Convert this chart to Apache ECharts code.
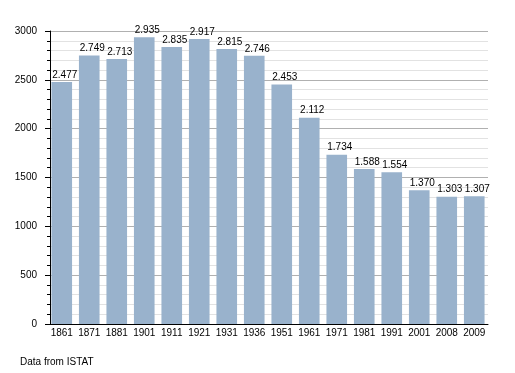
<!DOCTYPE html>
<html><head><meta charset="utf-8">
<script src="https://cdn.jsdelivr.net/npm/echarts@6/dist/echarts.min.js"></script>
<style>html,body{margin:0;padding:0;background:#fff}#c{width:515px;height:373px}</style>
</head><body><div id="c"></div>
<script>
const categories = ['1861','1871','1881','1901','1911','1921','1931','1936','1951','1961','1971','1981','1991','2001','2008','2009'];
const population = [2477,2749,2713,2935,2835,2917,2815,2746,2453,2112,1734,1588,1554,1370,1303,1307];
const yTicks = [0,500,1000,1500,2000,2500,3000];

const chart = echarts.init(document.getElementById('c'), null, {renderer:'canvas'});
const font = 'Liberation Sans, Arial, sans-serif';
chart.setOption({
  animation:false,
  textStyle:{fontFamily:font},
  graphic:[{type:'text', left:20, top:357, style:{text:'Data from ISTAT', font:'10px '+font, fill:'#000'}}],
  grid:{left:48, right:27, top:31, bottom:49},
  xAxis:{type:'category', data:categories,
    axisLine:{lineStyle:{color:'#000', width:1}},
    axisTick:{show:false},
    axisLabel:{color:'#000', fontSize:10, fontFamily:font, margin:4, interval:0}},
  yAxis:{type:'value', min:yTicks[0], max:yTicks[yTicks.length-1], interval:500, offset:-2,
    axisLine:{show:true, lineStyle:{color:'#000'}},
    axisTick:{show:true, length:5, lineStyle:{color:'#000'}},
    minorTick:{show:true, splitNumber:5, length:3, lineStyle:{color:'#000'}},
    splitLine:{lineStyle:{color:'#b0b0b0'}},
    minorSplitLine:{show:true, lineStyle:{color:'#e2e2e2'}},
    axisLabel:{color:'#000', fontSize:10, fontFamily:font, margin:13, formatter:v=>String(v)}},
  series:[{type:'bar', data:population, barWidth:'75%',
    itemStyle:{color:'#99b2cc'},
    label:{show:true, position:'top', distance:2, offset:[3,0], color:'#000', fontSize:10, fontFamily:font,
      formatter:p=>{const s=String(p.value);return s.length>3?s.slice(0,s.length-3)+'.'+s.slice(-3):s;}}}]
});
</script></body></html>
